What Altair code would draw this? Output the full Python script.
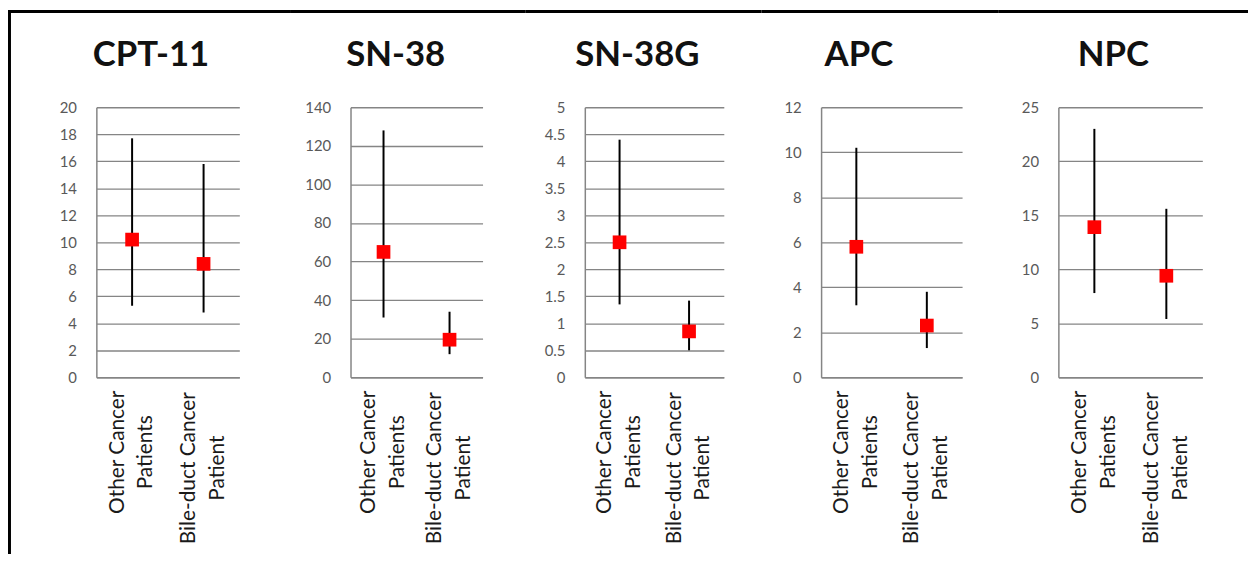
import altair as alt
import pandas as pd

# ---------------- data ----------------
panels = ["CPT-11", "SN-38", "SN-38G", "APC", "NPC"]
groups = ["Other Cancer\nPatients", "Bile-duct Cancer\nPatient"]
means = [[10.2, 8.4], [65, 19.5], [2.5, 0.85], [5.8, 2.3], [13.9, 9.4]]
lows = [[5.3, 4.8], [31, 12], [1.35, 0.5], [3.2, 1.3], [7.8, 5.4]]
highs = [[17.7, 15.8], [128, 34], [4.4, 1.42], [10.2, 3.8], [23, 15.6]]
y_max = [20, 140, 5, 12, 25]
y_step = [2, 20, 0.5, 2, 5]

# ---------------- layout / style ----------------
widths = [144, 133, 140, 142, 145]
gaps = [112, 103, 98, 97]          # right edge of a panel -> next panel's y axis
title_dx = [-17, -21, -17, -33, -17]
H = 272
TOP = 96.5        # frame line (centre) above plot top
LEFT = 87.5       # frame line (centre) left of first y axis
FW = 3            # frame line thickness
LEAD = 60         # left reach of the top frame segment in panels 2..5
RIGHT_END = 46    # reach of the top frame line beyond the last panel
BOTTOM = 450      # frame line bottom (below plot top)
LFS = 21          # category label font size
LH = 29           # category label line height
P1, P2 = 75, 91   # label padding (centre of rotated two-line labels)
FONT = "Lato"
GRID = "#858585"


def make_panel(i):
    df = pd.DataFrame({"group": groups, "mean": means[i],
                       "low": lows[i], "high": highs[i]})
    n = int(round(y_max[i] / y_step[i]))
    tick_vals = [round(k * y_step[i], 4) for k in range(n + 1)]

    x_axis = alt.Axis(
        labelExpr="split(datum.label, '\\n')",
        labelAngle=270, labelAlign="center", labelBaseline="middle",
        labelFont=FONT, labelFontSize=LFS, labelColor="#1a1a1a",
        labelLineHeight=LH, labelLimit=400, labelOffset=-LH / 2,
        ticks=False, grid=False,
        domain=True, domainColor=GRID, domainWidth=1.5,
        labelPadding={"condition": {"test": "datum.index < 0.5", "value": P1},
                      "value": P2},
    )
    y_axis = alt.Axis(
        values=tick_vals, format=".4~g", ticks=False, grid=True,
        gridColor=GRID, gridWidth=1.3, domainColor=GRID, domainWidth=1.5,
        labelFont=FONT, labelFontSize=15, labelColor="#595959", labelPadding=20,
    )
    y_scale = alt.Scale(domain=[0, y_max[i]], nice=False)
    x_enc = alt.X("group:N", sort=groups, title=None, axis=x_axis)

    bars = alt.Chart(df).mark_rule(color="black", strokeWidth=2).encode(
        x=x_enc,
        y=alt.Y("low:Q", title=None, scale=y_scale, axis=y_axis),
        y2="high:Q",
    )
    squares = alt.Chart(df).mark_square(size=190, color="#ff0000", opacity=1).encode(
        x=x_enc,
        y=alt.Y("mean:Q", title=None, scale=y_scale, axis=y_axis),
    )

    # decorative outer frame drawn as filled strips (top line split over the
    # panels, left line on panel 1)
    fdf = pd.DataFrame({"k": [0]})
    x0 = -LEFT - FW / 2 if i == 0 else -LEAD
    x1 = widths[i] + (gaps[i] - LEAD if i < len(panels) - 1 else RIGHT_END)
    layers = [alt.Chart(fdf).mark_rect(color="black", strokeWidth=0).encode(
        x=alt.value(x0), x2=alt.value(x1),
        y=alt.value(-TOP - FW / 2), y2=alt.value(-TOP + FW / 2))]
    if i == 0:
        layers.append(alt.Chart(fdf).mark_rect(color="black", strokeWidth=0).encode(
            x=alt.value(-LEFT - FW / 2), x2=alt.value(-LEFT + FW / 2),
            y=alt.value(-TOP - FW / 2), y2=alt.value(BOTTOM)))

    return alt.layer(*layers, bars, squares).properties(
        width=widths[i], height=H,
        title=alt.TitleParams(
            panels[i], font=FONT, fontSize=35, fontWeight="bold", color="#111111",
            anchor="middle", frame="group", dx=title_dx[i], offset=-91,
            baseline="alphabetic"),
    )


chart = alt.hconcat(*[make_panel(i) for i in range(len(panels))], spacing=0).properties(
    padding=0
).configure_view(stroke=None)

chart.save("out.html", embed_options={"renderer": "svg", "actions": False})
